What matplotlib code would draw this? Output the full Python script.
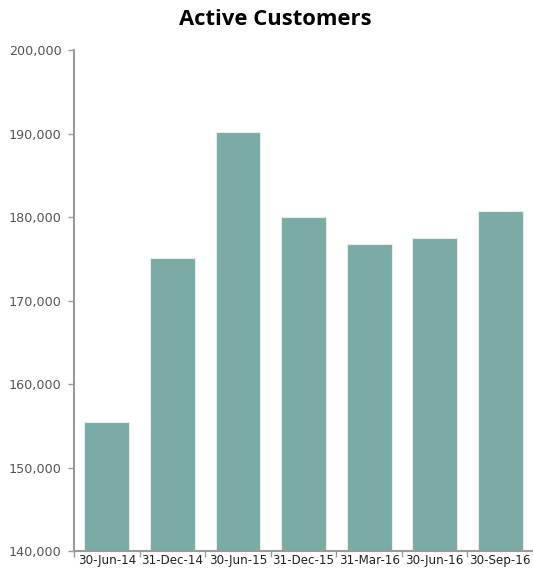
import matplotlib.pyplot as plt
import numpy as np
from matplotlib.ticker import FuncFormatter, FixedLocator

# Values
dates = ['30-Jun-14', '31-Dec-14', '30-Jun-15', '31-Dec-15', '31-Mar-16', '30-Jun-16', '30-Sep-16']
active_customers = [155500, 175050, 190200, 180050, 176750, 177450, 180700]
y_ticks = [140000, 150000, 160000, 170000, 180000, 190000, 200000]

bar_color = '#7aaba5'
axis_color = '#9a9a9a'

fig = plt.figure(figsize=(5.33, 5.69), dpi=100)
ax = fig.add_axes([0.139, 0.0316, 0.861, 0.8805])

x = np.arange(len(dates))
ax.bar(x, active_customers, width=0.685, color=bar_color,
       edgecolor='#e2efed', linewidth=0.8, zorder=2)

ax.set_xlim(-0.5, len(dates) - 0.5)
ax.set_ylim(y_ticks[0], y_ticks[-1])

ax.set_yticks(y_ticks)
ax.yaxis.set_major_formatter(FuncFormatter(lambda v, p: f'{int(v):,}'))

# category labels centred on bars, tick marks between categories
ax.set_xticks(x)
ax.set_xticklabels(dates)
ax.xaxis.set_minor_locator(FixedLocator(np.arange(-0.5, len(dates) + 0.5, 1.0)))
ax.tick_params(axis='x', which='major', length=0, pad=2, labelsize=8.6, colors='#222222')
ax.tick_params(axis='x', which='minor', length=4, width=1, color=axis_color, direction='out')
ax.tick_params(axis='y', length=4, width=1, color=axis_color, pad=5, labelsize=9.2,
               labelcolor='#555555')

for side in ['top', 'right']:
    ax.spines[side].set_visible(False)
for side in ['left', 'bottom']:
    ax.spines[side].set_color(axis_color)
    ax.spines[side].set_linewidth(1.5)

fig.text(0.516, 0.965, 'Active Customers', ha='center', va='center',
         fontsize=15.8, fontweight='bold', family='Open Sans')

fig.savefig('out.png', dpi=100)
